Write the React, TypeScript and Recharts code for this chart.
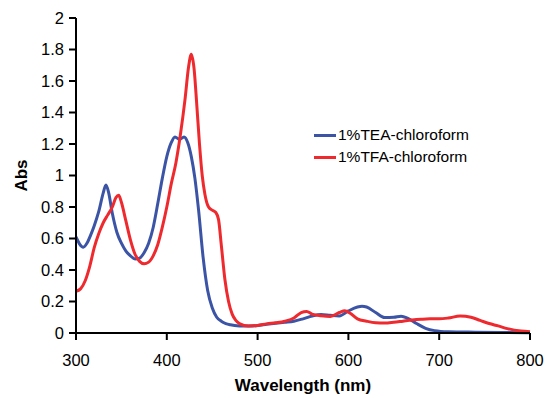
import React from "react";
import { LineChart, Line, XAxis, YAxis } from "recharts";

// 1%TEA-chloroform spectrum
const teaNm = [
  300, 304, 308, 312, 316, 320, 325, 330, 333, 336, 340, 345, 350, 355, 360,
  365, 370, 375, 380, 385, 390, 395, 400, 405, 409, 414, 419, 423, 427, 431,
  435, 440, 445, 450, 455, 460, 465, 470, 480, 490, 500, 510, 520, 530, 540,
  550, 560, 570, 580, 590, 600, 610, 615, 620, 630, 640, 650, 658, 665, 675,
  685, 695, 710, 740, 770, 800,
];
const teaAbs = [
  0.61, 0.565, 0.545, 0.57, 0.62, 0.68, 0.77, 0.89, 0.94, 0.89, 0.76, 0.64,
  0.57, 0.52, 0.49, 0.47, 0.475, 0.51, 0.57, 0.67, 0.82, 0.98, 1.12, 1.21,
  1.245, 1.23, 1.245, 1.21, 1.12, 0.98, 0.78, 0.48, 0.27, 0.16, 0.1, 0.075,
  0.06, 0.052, 0.045, 0.044, 0.047, 0.055, 0.062, 0.068, 0.075, 0.09, 0.108,
  0.118, 0.112, 0.108, 0.14, 0.165, 0.17, 0.165, 0.13, 0.098, 0.1, 0.107,
  0.095, 0.06, 0.03, 0.015, 0.008, 0.005, 0.003, 0.002,
];

// 1%TFA-chloroform spectrum
const tfaNm = [
  300, 305, 310, 315, 320, 325, 330, 335, 340, 344, 347, 350, 355, 360, 365,
  370, 375, 380, 385, 390, 395, 400, 405, 410, 415, 420, 424, 427, 430, 433,
  436, 439, 442, 446, 450, 454, 457, 460, 464, 468, 472, 476, 480, 490, 500,
  510, 520, 530, 540, 548, 554, 560, 570, 580, 590, 596, 602, 610, 620, 630,
  640, 650, 660, 670, 680, 690, 700, 710, 723, 735, 745, 755, 765, 775, 790,
  800,
];
const tfaAbs = [
  0.265, 0.28, 0.33, 0.42, 0.54, 0.63, 0.7, 0.75, 0.8, 0.86, 0.875, 0.83,
  0.71, 0.59, 0.5, 0.455, 0.44, 0.45, 0.49, 0.56, 0.67, 0.8, 0.95, 1.08, 1.26,
  1.48, 1.69, 1.77, 1.68, 1.45, 1.2, 1.0, 0.88, 0.8, 0.78, 0.765, 0.72, 0.56,
  0.34, 0.2, 0.12, 0.08, 0.06, 0.045, 0.048, 0.058, 0.065, 0.075, 0.095, 0.13,
  0.137, 0.12, 0.11, 0.105, 0.13, 0.142, 0.125, 0.09, 0.075, 0.065, 0.063,
  0.068, 0.075, 0.082, 0.087, 0.09, 0.09, 0.095, 0.108, 0.1, 0.08, 0.06, 0.045,
  0.028, 0.012, 0.008,
];

const xTicks = [300, 400, 500, 600, 700, 800];
const yTicks = [0, 0.2, 0.4, 0.6, 0.8, 1, 1.2, 1.4, 1.6, 1.8, 2];

const teaData = teaNm.map((nm, i) => ({ nm, abs: teaAbs[i] }));
const tfaData = tfaNm.map((nm, i) => ({ nm, abs: tfaAbs[i] }));

const BLUE = "#3b54a5";
const RED = "#ee2a2e";
const FONT = "Arial, 'Liberation Sans', sans-serif";

const series = [
  { name: "1%TEA-chloroform", color: BLUE, data: teaData },
  { name: "1%TFA-chloroform", color: RED, data: tfaData },
];

// legend drawn over the plot, like the original
const LegendBox = () => (
  <div
    style={{
      position: "absolute",
      left: 314,
      top: 124,
      fontFamily: FONT,
      fontSize: 15.5,
      color: "#000",
    }}
  >
    {series.map((s) => (
      <div
        key={s.name}
        style={{ display: "flex", alignItems: "center", height: 22 }}
      >
        <span
          style={{
            display: "inline-block",
            width: 22,
            height: 3,
            background: s.color,
            marginRight: 2,
          }}
        />
        <span>{s.name}</span>
      </div>
    ))}
  </div>
);

export default function App() {
  return (
    <div
      style={{
        position: "absolute",
        left: 0,
        top: 0,
        width: 545,
        height: 398,
        background: "#fff",
      }}
    >
      <LineChart
        width={545}
        height={398}
        margin={{ top: 18, right: 15, left: 0, bottom: 0 }}
      >
        <XAxis
          dataKey="nm"
          type="number"
          domain={[300, 800]}
          ticks={xTicks}
          allowDuplicatedCategory={false}
          height={65}
          stroke="#000"
          strokeWidth={2}
          tickSize={7}
          tickMargin={14}
          tick={{ fill: "#000", fontSize: 16.5, fontFamily: FONT }}
          label={({ viewBox }: any) => (
            <text
              x={viewBox.x + viewBox.width / 2}
              y={391}
              textAnchor="middle"
              fontFamily={FONT}
              fontSize={17}
              fontWeight="bold"
              fill="#000"
            >
              Wavelength (nm)
            </text>
          )}
        />
        <YAxis
          type="number"
          domain={[0, 2]}
          ticks={yTicks}
          width={76}
          stroke="#000"
          strokeWidth={2}
          tickSize={7}
          tickMargin={5}
          tick={{ fill: "#000", fontSize: 16.5, fontFamily: FONT }}
          label={({ viewBox }: any) => {
            const cy = viewBox.y + viewBox.height / 2;
            return (
              <text
                x={27}
                y={cy}
                transform={`rotate(-90, 27, ${cy})`}
                textAnchor="middle"
                fontFamily={FONT}
                fontSize={17}
                fontWeight="bold"
                fill="#000"
              >
                Abs
              </text>
            );
          }}
        />
        {series.map((s) => (
          <Line
            key={s.name}
            data={s.data}
            dataKey="abs"
            name={s.name}
            type="monotone"
            stroke={s.color}
            strokeWidth={3}
            dot={false}
            activeDot={false}
            isAnimationActive={false}
          />
        ))}
      </LineChart>
      <LegendBox />
    </div>
  );
}
